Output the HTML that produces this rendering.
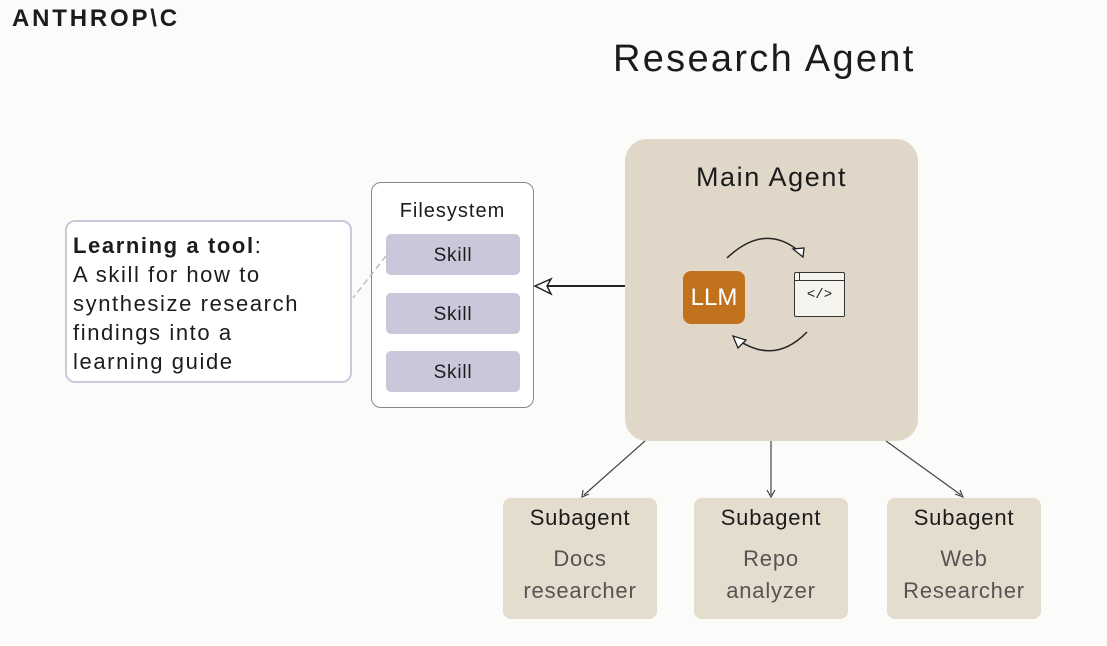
<!DOCTYPE html>
<html><head><style>
body{margin:0;width:1107px;height:646px;background:#fbfbfa;position:relative;overflow:hidden;font-family:"Liberation Sans",sans-serif;color:#1c1c1c}
.a{position:absolute;box-sizing:border-box}
.sub{background:#e4dccd;border-radius:8px;text-align:center;letter-spacing:0.8px}
.skill{background:#cbc7db;border-radius:5px;left:386px;width:134px;height:41px;line-height:43px;text-align:center;font-size:19px;letter-spacing:0.8px}
</style></head><body>
<div class="a" style="left:12px;top:5px;font-size:24px;font-weight:bold;letter-spacing:2.8px">ANTHROP\C</div>
<div class="a" style="left:613px;top:38px;font-size:38px;letter-spacing:2.3px">Research Agent</div>
<div class="a" style="left:625px;top:139px;width:293px;height:302px;background:#e0d7c8;border-radius:22px"></div>
<div class="a" style="left:625px;top:162px;width:293px;text-align:center;font-size:27px;letter-spacing:1.6px">Main Agent</div>
<div class="a" style="left:683px;top:271px;width:62px;height:53px;background:#c0731c;border-radius:8px;color:#fff;font-size:24px;text-align:center;line-height:53px">LLM</div>
<div class="a" style="left:794px;top:272px;width:51px;height:45px;background:#f6f4ef;border:1.5px solid #333;border-radius:2px"></div>
<div class="a" style="left:794px;top:280px;width:51px;border-top:1.5px solid #333"></div>
<div class="a" style="left:794px;top:272px;width:6px;height:9px;border-right:1.5px solid #333"></div>
<div class="a" style="left:794px;top:287px;width:51px;text-align:center;font-size:14px;font-family:'Liberation Mono',monospace">&lt;/&gt;</div>
<div class="a" style="left:65px;top:220px;width:287px;height:163px;border:2px solid #cbc9da;border-radius:10px;background:#fff"></div>
<div class="a" style="left:73px;top:231px;font-size:22px;line-height:29px;letter-spacing:1.6px"><b>Learning a tool</b>:<br>A skill for how to<br>synthesize research<br>findings into a<br>learning guide</div>
<div class="a" style="left:371px;top:182px;width:163px;height:226px;border:1.5px solid #888;border-radius:10px;background:#fff"></div>
<div class="a" style="left:371px;top:200px;width:163px;text-align:center;font-size:20px;letter-spacing:1px">Filesystem</div>
<div class="a skill" style="top:234px">Skill</div>
<div class="a skill" style="top:293px">Skill</div>
<div class="a skill" style="top:351px">Skill</div>
<svg class="a" style="left:0;top:0" width="1107" height="646">
<line x1="386" y1="256" x2="353" y2="298" stroke="#bbb" stroke-width="1.5" stroke-dasharray="6,4"/>
<line x1="540" y1="286" x2="625" y2="286" stroke="#222" stroke-width="2"/>
<path d="M535 286 L551 279 L547 286 L551 294 Z" fill="#fff" stroke="#222" stroke-width="1.5"/>
<path d="M727 258 Q765 222 800 252" fill="none" stroke="#222" stroke-width="1.5"/>
<path d="M803 257 L793 249 L804 248 Z" fill="#fff" stroke="#222" stroke-width="1.3"/>
<path d="M807 332 Q775 365 738 340" fill="none" stroke="#222" stroke-width="1.5"/>
<path d="M733 336 L746 340 L738 348 Z" fill="#fff" stroke="#222" stroke-width="1.3"/>
<g stroke="#444" stroke-width="1.2" fill="none">
<line x1="645" y1="441" x2="584" y2="495"/><path d="M583 490 L582 497 L589 494"/>
<line x1="771" y1="441" x2="771" y2="495"/><path d="M767 490 L771 497 L775 490"/>
<line x1="886" y1="441" x2="961" y2="495"/><path d="M955 494 L963 497 L960 490"/>
</g>
</svg>
<div class="a sub" style="left:503px;top:498px;width:154px;height:121px"><div style="font-size:22px;margin-top:7px">Subagent</div><div style="font-size:22px;color:#555;line-height:32px;margin-top:12px">Docs<br>researcher</div></div>
<div class="a sub" style="left:694px;top:498px;width:154px;height:121px"><div style="font-size:22px;margin-top:7px">Subagent</div><div style="font-size:22px;color:#555;line-height:32px;margin-top:12px">Repo<br>analyzer</div></div>
<div class="a sub" style="left:887px;top:498px;width:154px;height:121px"><div style="font-size:22px;margin-top:7px">Subagent</div><div style="font-size:22px;color:#555;line-height:32px;margin-top:12px">Web<br>Researcher</div></div>
</body></html>
